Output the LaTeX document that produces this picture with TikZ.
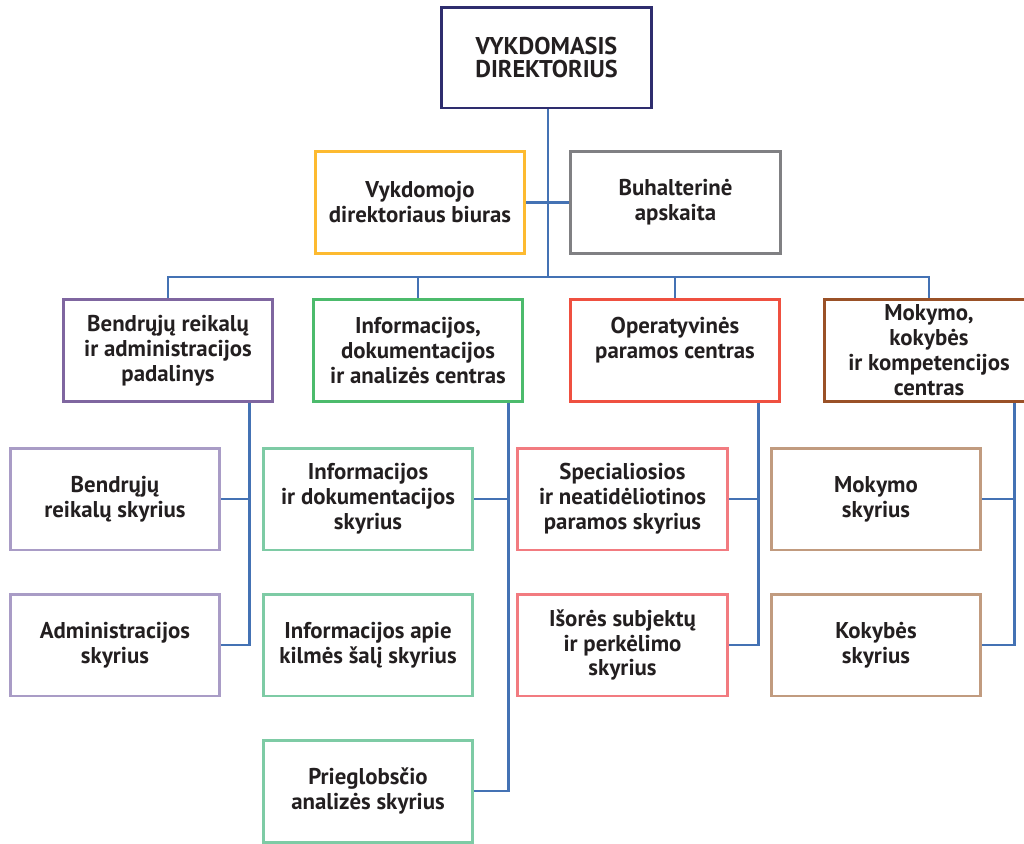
\documentclass[tikz,border=0pt]{standalone}
\usepackage{fontspec}
\setmainfont{PT Sans}
\usetikzlibrary{calc}
\definecolor{navy}{HTML}{2E2D6E}
\definecolor{gold}{HTML}{FDBA30}
\definecolor{ashgray}{HTML}{808083}
\definecolor{plum}{HTML}{7F66A0}
\definecolor{leaf}{HTML}{4CBB6C}
\definecolor{tomato}{HTML}{EF5040}
\definecolor{rust}{HTML}{9A5127}
\definecolor{lilac}{HTML}{A99CC6}
\definecolor{mint}{HTML}{7ECBA5}
\definecolor{rose}{HTML}{F27B80}
\definecolor{tan}{HTML}{C19B7F}
\definecolor{linkblue}{HTML}{4472B4}
\definecolor{ink}{HTML}{231F20}
\begin{document}
\begin{tikzpicture}[x=0.02cm,y=-0.02cm,
	box/.style={draw, line width=1.7pt, minimum width=4.2cm, minimum height=2.04cm, inner sep=1pt,
		align=center, text=ink, font=\fontsize{13}{14.2}\selectfont\bfseries},
	link/.style={draw=linkblue, line width=1.5pt}]
	\useasboundingbox (0,0) rectangle (1024,843);

	\node[box, draw=navy, minimum height=2.02cm, font=\fontsize{13.8}{12.6}\selectfont\bfseries] (exec) at (546.5,57.5) {VYKDOMASIS\\DIREKTORIUS};
	\node[box, draw=gold] (office) at (420,202.5) {Vykdomojo\\direktoriaus biuras};
	\node[box, draw=ashgray] (acct) at (675.5,202.5) {Buhalterinė\\apskaita};

	\node[box, draw=plum] (gen) at (168,350.5) {Bendrųjų reikalų\\ir administracijos\\padalinys};
	\node[box, draw=leaf] (info) at (418,350.5) {Informacijos,\\dokumentacijos\\ir analizės centras};
	\node[box, draw=tomato] (ops) at (675,350.5) {Operatyvinės\\paramos centras\\ \mbox{}};
	\node[box, draw=rust] (train) at (929,350.5) {Mokymo,\\kokybės\\ir kompetencijos\\centras};

	\node[box, draw=lilac] (gen1) at (115,499) {Bendrųjų\\reikalų skyrius};
	\node[box, draw=lilac] (gen2) at (115,645) {Administracijos\\skyrius};
	\node[box, draw=mint] (info1) at (368,499) {Informacijos\\ir dokumentacijos\\skyrius};
	\node[box, draw=mint] (info2) at (368,645) {Informacijos apie\\kilmės šalį skyrius};
	\node[box, draw=mint] (info3) at (368,791) {Prieglobsčio\\analizės skyrius};
	\node[box, draw=rose] (ops1) at (622.5,499) {Specialiosios\\ir neatidėliotinos\\paramos skyrius};
	\node[box, draw=rose] (ops2) at (622.5,645) {Išorės subjektų\\ir perkėlimo\\skyrius};
	\node[box, draw=tan] (train1) at (876,499) {Mokymo\\skyrius};
	\node[box, draw=tan] (train2) at (876,645) {Kokybės\\skyrius};

	% top part
	\coordinate (bus) at (548,277);
	\draw[link] (exec.south -| bus) -- (bus);
	\draw[link] (office.east) -- (acct.west);
	\draw[link] (gen.north) |- (bus) -| (train.north);
	\draw[link] (info.north) -- (info.north |- bus);
	\draw[link] (ops.north) -- (ops.north |- bus);

	% drops to the sections
	\coordinate (gen-bus) at ($(gen.south east)+(-25,0)$);
	\coordinate (info-bus) at ($(info.south east)+(-16,0)$);
	\coordinate (ops-bus) at ($(ops.south east)+(-23,0)$);
	\coordinate (train-bus) at ($(train.south east)+(-21,0)$);
	\draw[link] (gen-bus) |- (gen2.east);
	\draw[link] (gen1.east) -- (gen1.east -| gen-bus);
	\draw[link] (info-bus) |- (info3.east);
	\draw[link] (info1.east) -- (info1.east -| info-bus);
	\draw[link] (ops-bus) |- (ops2.east);
	\draw[link] (ops1.east) -- (ops1.east -| ops-bus);
	\draw[link] (train-bus) |- (train2.east);
	\draw[link] (train1.east) -- (train1.east -| train-bus);
\end{tikzpicture}
\end{document}
